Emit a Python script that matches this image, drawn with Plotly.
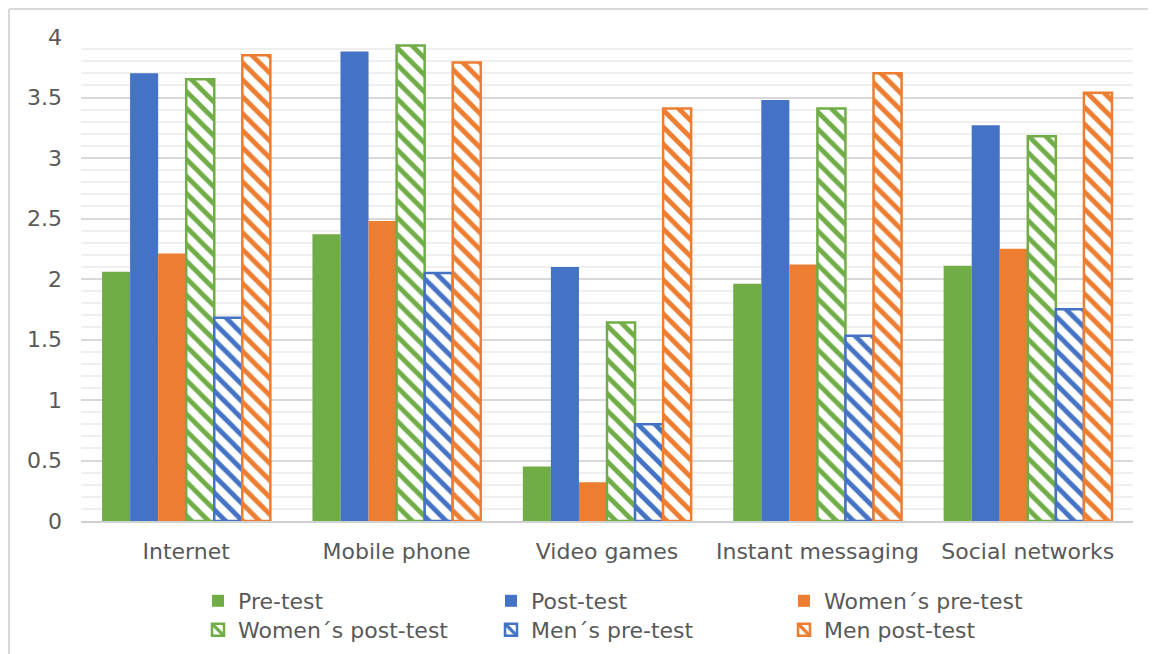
import plotly.graph_objects as go

categories = ["Internet", "Mobile phone", "Video games", "Instant messaging", "Social networks"]
pre_test = [2.06, 2.37, 0.45, 1.96, 2.11]
post_test = [3.70, 3.88, 2.10, 3.48, 3.27]
women_pre = [2.21, 2.48, 0.32, 2.12, 2.25]
women_post = [3.65, 3.93, 1.64, 3.41, 3.18]
men_pre = [1.68, 2.05, 0.80, 1.53, 1.75]
men_post = [3.85, 3.79, 3.41, 3.70, 3.54]

series_names = ["Pre-test", "Post-test", "Women\u00b4s pre-test",
                "Women\u00b4s post-test", "Men\u00b4s pre-test", "Men post-test"]
series_values = [pre_test, post_test, women_pre, women_post, men_pre, men_post]

GREEN = "#70AD47"
BLUE = "#4472C4"
ORANGE = "#ED7D31"
colors = [GREEN, BLUE, ORANGE, GREEN, BLUE, ORANGE]
hatched = [False, False, False, True, True, True]

FONT = "DejaVu Sans"
TXT = "#595959"
FS = 22

# figure geometry (figure pixels; page adds an 8px body margin)
W, H = 1156, 654
L, T = 73, 29
PW, PH = 1052, 484
R = W - L - PW
B = H - T - PH


def px_to_paper_x(px):
    return (px - L) / PW


def px_to_paper_y(py):
    return (T + PH - py) / PH


# legend: 3 columns x 2 rows, one single-entry legend per series
leg_cols_px = [190, 483, 776]
leg_rows_px = [572, 601]
legend_ids = ["legend", "legend2", "legend3", "legend4", "legend5", "legend6"]

fig = go.Figure()
for name, vals, col, h, lg in zip(series_names, series_values, colors, hatched, legend_ids):
    if h:
        marker = dict(color="white",
                      line=dict(color=col, width=2.5),
                      pattern=dict(shape="\\", fgcolor=col, bgcolor="white",
                                   size=12, solidity=0.4, fillmode="replace"))
    else:
        marker = dict(color=col, line=dict(width=0))
    fig.add_trace(go.Bar(x=categories, y=vals, name=name, marker=marker, legend=lg))

legend_layout = {}
for i, lg in enumerate(legend_ids):
    legend_layout[lg] = dict(
        orientation="v", xanchor="left", yanchor="top",
        x=px_to_paper_x(leg_cols_px[i % 3]),
        y=px_to_paper_y(leg_rows_px[i // 3]),
        font=dict(family=FONT, size=FS, color=TXT),
        bgcolor="rgba(0,0,0,0)")

fig.update_layout(
    width=W, height=H,
    barmode="group", bargap=0.2, bargroupgap=0,
    plot_bgcolor="white", paper_bgcolor="white",
    margin=dict(l=L, r=R, t=T, b=B, autoexpand=False),
    font=dict(family=FONT, size=FS, color=TXT),
    showlegend=True,
    **legend_layout,
)
fig.update_yaxes(range=[0, 4], dtick=0.5, tick0=0,
                 showgrid=True, gridcolor="#d9d9d9", gridwidth=1.5,
                 minor=dict(dtick=0.1, showgrid=True, gridcolor="#efefef", gridwidth=1.5),
                 zeroline=False, showline=False, ticks="", automargin=False,
                 ticklabelstandoff=18,
                 tickfont=dict(family=FONT, size=FS, color=TXT))
fig.update_xaxes(showline=True, linecolor="#d0d0d0", linewidth=1.5, ticks="",
                 automargin=False, ticklabelstandoff=10,
                 tickfont=dict(family=FONT, size=FS, color=TXT))

# outer chart border (light grey) along the figure's top and left edges
bx = px_to_paper_x(1)
by = px_to_paper_y(1)
fig.add_shape(type="line", xref="paper", yref="paper",
              x0=bx, x1=1.2, y0=by, y1=by,
              line=dict(color="#d9d9d9", width=2))
fig.add_shape(type="line", xref="paper", yref="paper",
              x0=bx, x1=bx, y0=by, y1=-0.5,
              line=dict(color="#d9d9d9", width=2))

fig.write_html("out.html")
